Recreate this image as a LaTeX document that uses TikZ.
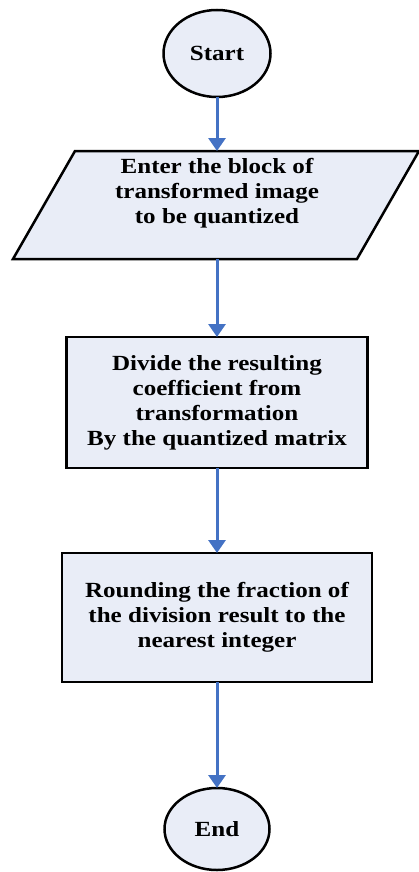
\documentclass[tikz,border=0pt]{standalone}
\usepackage{fontspec}
\setmainfont{Liberation Serif}[FakeStretch=1.16]
\usetikzlibrary{shapes.geometric,arrows.meta}
\definecolor{boxfill}{RGB}{233,237,247}
\definecolor{flowblue}{RGB}{68,114,196}
\begin{document}
\begin{tikzpicture}[x=1pt,y=-1pt,
  every node/.style={font=\bfseries\fontsize{21.6}{25}\selectfont, align=center},
  terminal/.style={ellipse, draw=black, line width=2.5pt, fill=boxfill, inner sep=0pt, outer sep=0pt},
  iobody/.style={rectangle, inner sep=0pt, outer sep=0pt},
  ioframe/.style={draw=black, line width=2.5pt, fill=boxfill, line join=miter},
  procbox/.style={rectangle, draw=black, line width=2.5pt, fill=boxfill, inner sep=0pt, outer sep=0pt},
  flow/.style={draw=flowblue, line width=3pt, -{Triangle[width=17pt,length=13pt]}}]
  \useasboundingbox[fill=white] (0,0) rectangle (419,872);

  \node[terminal, minimum width=107pt, minimum height=87pt] (start) at (217,53.5) {Start};

  % input step: slanted data box around a plain body node
  \node[iobody, minimum width=344pt, minimum height=108pt] (input) at (216,205) {};
  \path[ioframe] ([xshift=-31pt]input.south west) -- ([xshift=31pt]input.north west)
    -- ([xshift=31pt]input.north east) -- ([xshift=-31pt]input.south east) -- cycle;
  \node[inner sep=0pt] (inputtext) at (217,193) {Enter the block of\\transformed image\\to be quantized};

  \node[procbox, minimum width=301pt, minimum height=131pt] (divide) at (217,402.5)
    {Divide the resulting\\coefficient from\\transformation\\By the quantized matrix};
  \node[procbox, minimum width=310pt, minimum height=129pt] (round) at (217,617.5)
    {Rounding the fraction of\\the division result to the\\nearest integer};
  \node[terminal, minimum width=105pt, minimum height=82pt] (end) at (217,829) {End};

  \draw[flow] (start.south) -- (start.south |- input.north);
  \draw[flow] (start.south |- input.south) -- (divide.north);
  \draw[flow] (divide.south) -- (round.north);
  \draw[flow] (round.south) -- (end.north);
\end{tikzpicture}
\end{document}
